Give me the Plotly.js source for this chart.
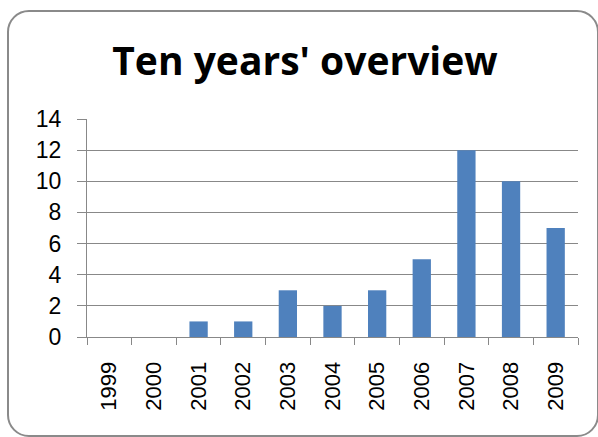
<!DOCTYPE html>
<html>
<head>
<meta charset="utf-8">
<script src="https://cdn.plot.ly/plotly-3.0.1.min.js"></script>
<style>
html,body{margin:0;padding:0;background:#fff;}
#wrap{position:relative;width:598px;height:437px;}
#chart{width:598px;height:437px;}
#frame{position:absolute;left:7px;top:10px;width:588px;height:423px;border:2px solid #8a8a8a;border-radius:22px;pointer-events:none;}
</style>
</head>
<body>
<div id="wrap"><div id="chart"></div><div id="frame"></div></div>
<script>
const years = ['1999','2000','2001','2002','2003','2004','2005','2006','2007','2008','2009'];
const counts = [0,0,1,1,3,2,3,5,12,10,7];
const yTicks = [0,2,4,6,8,10,12,14];

Plotly.newPlot('chart', [{
  type: 'bar',
  x: years,
  y: counts,
  marker: {color: '#4F81BD'},
  hoverinfo: 'x+y'
}], {
  width: 598, height: 437,
  margin: {l: 87, r: 20, t: 119, b: 100},
  paper_bgcolor: 'rgba(0,0,0,0)',
  plot_bgcolor: '#fff',
  bargap: 0.59,
  showlegend: false,
  title: {
    text: "<b>Ten years' overview</b>",
    font: {family: 'Open Sans, sans-serif', size: 39, color: '#000'},
    x: 0.51, xanchor: 'center',
    y: 1 - 61/437, yanchor: 'middle', yref: 'container'
  },
  font: {family: 'Liberation Sans, Arial, sans-serif', size: 22, color: '#000'},
  xaxis: {
    type: 'category',
    tickangle: -90,
    ticks: 'outside',
    tickson: 'boundaries',
    ticklen: 7,
    tickcolor: '#888',
    showline: true,
    linecolor: '#888',
    linewidth: 1,
    showgrid: false,
    tickfont: {size: 22},
    ticklabelstandoff: 15,
    fixedrange: true
  },
  yaxis: {
    range: [0, 14],
    tickvals: yTicks,
    ticktext: yTicks.map(String),
    ticks: 'outside',
    ticklen: 9,
    tickcolor: '#888',
    showline: true,
    linecolor: '#888',
    showgrid: true,
    gridcolor: '#888',
    gridwidth: 1,
    zeroline: false,
    tickfont: {size: 23},
    ticklabelstandoff: 11,
    fixedrange: true
  }
}, {displayModeBar: false, staticPlot: true});
</script>
</body>
</html>
